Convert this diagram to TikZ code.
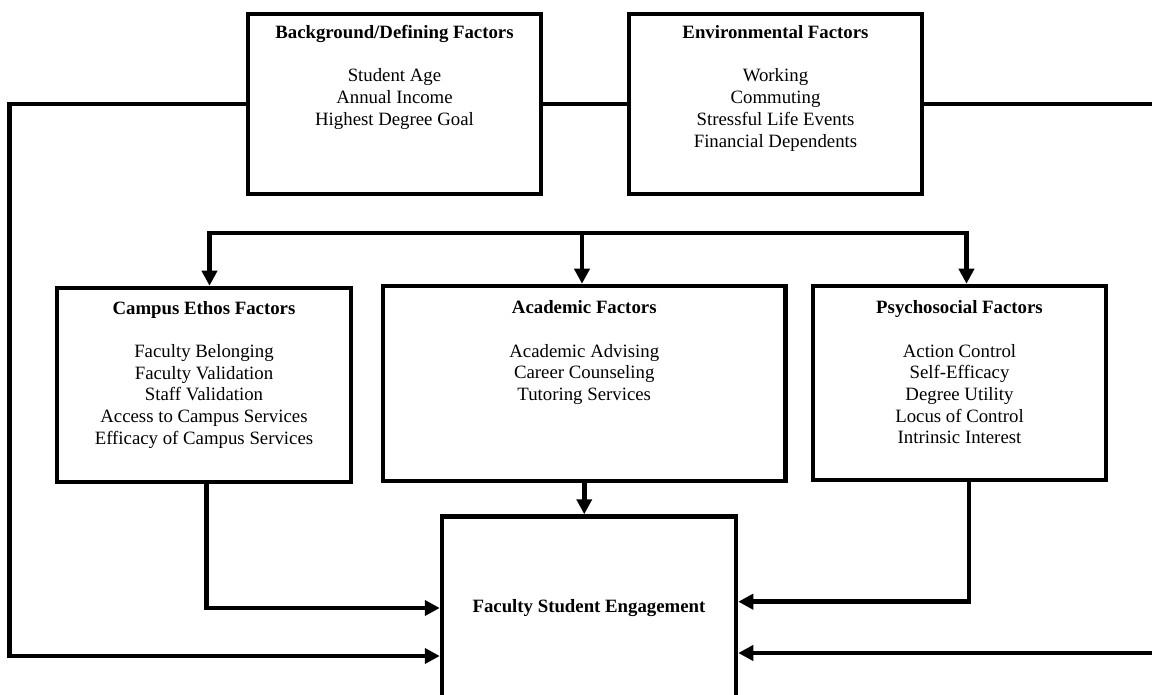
\documentclass[tikz,border=0pt]{standalone}
\usepackage{fontspec}
\setmainfont{Liberation Serif}
\usetikzlibrary{arrows.meta}
\begin{document}
\begin{tikzpicture}[x=1pt,y=-1pt,
  box/.style={draw, line width=4.5pt, inner sep=0pt},
  lbl/.style={anchor=base, align=center, inner sep=0pt, font=\fontsize{18.8}{21.7}\selectfont},
  conn/.style={line width=4.5pt},
  arr/.style={conn, -{Triangle[length=15pt,width=15pt]}}]
\useasboundingbox (0,0) rectangle (1152,695);
\fill[white] (0,0) rectangle (1152,695);
\clip (0,0) rectangle (1152,695);
% boxes
\node[box, minimum width=293pt, minimum height=180pt] (bg) at (394.5,104) {};
\node[box, minimum width=293pt, minimum height=180pt] (env) at (775.5,104) {};
\node[box, minimum width=294pt, minimum height=194pt] (campus) at (204,385) {};
\node[box, minimum width=402.5pt, minimum height=195pt] (acad) at (584.25,383.5) {};
\node[box, minimum width=293pt, minimum height=194pt] (psych) at (959.5,383) {};
\node[box, minimum width=294pt, minimum height=183pt, font=\fontsize{18.8}{21.7}\selectfont\bfseries] (fse) at (589,608) {Faculty Student Engagement};
% texts (anchored at the baseline of the last line)
\node[lbl] (bgt) at (394.5,125.4) {\textbf{Background/Defining Factors}\\[21.7pt] Student Age\\ Annual Income\\ Highest Degree Goal};
\node[lbl] (envt) at (775.5,147.1) {\textbf{Environmental Factors}\\[21.7pt] Working\\ Commuting\\ Stressful Life Events\\ Financial Dependents};
\node[lbl] (campust) at (204,444.3) {\textbf{Campus Ethos Factors}\\[21.7pt] Faculty Belonging\\ Faculty Validation\\ Staff Validation\\ Access to Campus Services\\ Efficacy of Campus Services};
\node[lbl] (acadt) at (584.25,400.4) {\textbf{Academic Factors}\\[21.7pt] Academic Advising\\ Career Counseling\\ Tutoring Services};
\node[lbl] (psycht) at (959.5,443.8) {\textbf{Psychosocial Factors}\\[21.7pt] Action Control\\ Self-Efficacy\\ Degree Utility\\ Locus of Control\\ Intrinsic Interest};
% coordinates
\coordinate (lc) at (9.5,656);
\coordinate (rtop) at (1170,104);
\coordinate (rbot) at (1170,653);
\coordinate (a1) at (209.5,233);
\coordinate (a2) at (582,233);
\coordinate (a3) at (966.5,233);
% connectors
\draw[conn] (bg.east) -- (env.west);
\draw[arr] (bg.west) -| (lc) -- (lc -| fse.west);
\draw[conn] (env.east) -- (env.east -| rtop);
\draw[arr] (rbot) -- (rbot -| fse.east);
\draw[conn, line cap=rect] (a1) -- (a3);
\draw[arr] (a1) -- (a1 |- campus.north);
\draw[arr] (a2) -- (a2 |- acad.north);
\draw[arr] (a3) -- (a3 |- psych.north);
\draw[arr] (acad.south) -- (acad.south |- fse.north);
\draw[arr] ([xshift=2.5pt]campus.south) |- (fse.west);
\draw[arr] ([xshift=9.5pt]psych.south) |- ([yshift=6.3pt]fse.east);
\end{tikzpicture}
\end{document}
